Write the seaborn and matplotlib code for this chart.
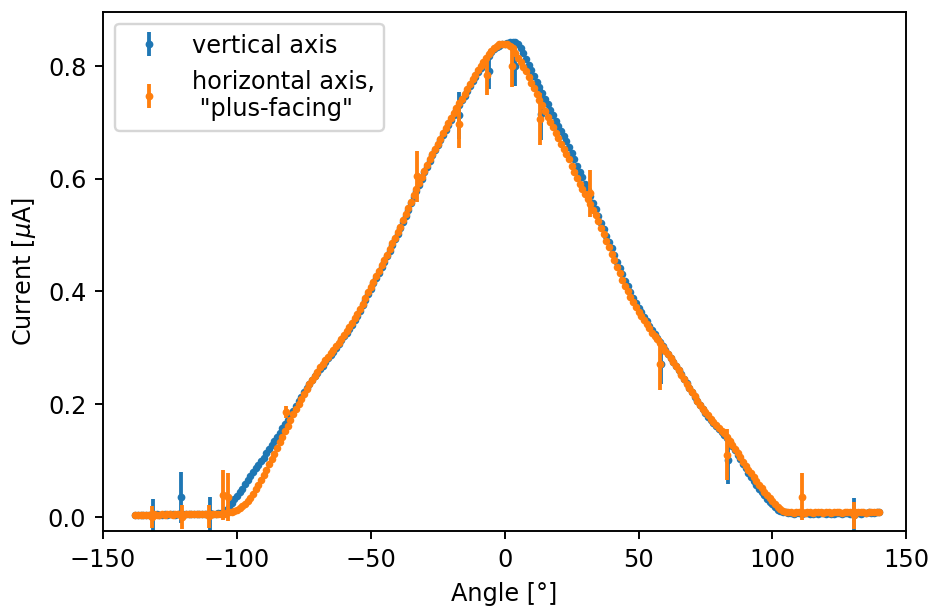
import numpy as np
import pandas as pd
import matplotlib
matplotlib.use("Agg")
import matplotlib.pyplot as plt
import seaborn as sns

# measured angles in degrees
angle = [
    -138, -137, -136, -135, -134, -133, -132, -131, -130, -129,
    -128, -127, -126, -125, -124, -123, -122, -121, -120, -119,
    -118, -117, -116, -115, -114, -113, -112, -111, -110, -109,
    -108, -107, -106, -105, -104, -103, -102, -101, -100, -99,
    -98, -97, -96, -95, -94, -93, -92, -91, -90, -89,
    -88, -87, -86, -85, -84, -83, -82, -81, -80, -79,
    -78, -77, -76, -75, -74, -73, -72, -71, -70, -69,
    -68, -67, -66, -65, -64, -63, -62, -61, -60, -59,
    -58, -57, -56, -55, -54, -53, -52, -51, -50, -49,
    -48, -47, -46, -45, -44, -43, -42, -41, -40, -39,
    -38, -37, -36, -35, -34, -33, -32, -31, -30, -29,
    -28, -27, -26, -25, -24, -23, -22, -21, -20, -19,
    -18, -17, -16, -15, -14, -13, -12, -11, -10, -9,
    -8, -7, -6, -5, -4, -3, -2, -1, 0, 1,
    2, 3, 4, 5, 6, 7, 8, 9, 10, 11,
    12, 13, 14, 15, 16, 17, 18, 19, 20, 21,
    22, 23, 24, 25, 26, 27, 28, 29, 30, 31,
    32, 33, 34, 35, 36, 37, 38, 39, 40, 41,
    42, 43, 44, 45, 46, 47, 48, 49, 50, 51,
    52, 53, 54, 55, 56, 57, 58, 59, 60, 61,
    62, 63, 64, 65, 66, 67, 68, 69, 70, 71,
    72, 73, 74, 75, 76, 77, 78, 79, 80, 81,
    82, 83, 84, 85, 86, 87, 88, 89, 90, 91,
    92, 93, 94, 95, 96, 97, 98, 99, 100, 101,
    102, 103, 104, 105, 106, 107, 108, 109, 110, 111,
    112, 113, 114, 115, 116, 117, 118, 119, 120, 121,
    122, 123, 124, 125, 126, 127, 128, 129, 130, 131,
    132, 133, 134, 135, 136, 137, 138, 139, 140,
]

# current, vertical axis scan [uA]
current_vertical = [
    0.003, 0.003, 0.004, 0.003, 0.004, 0.004, 0.003, 0.004, 0.005, 0.004,
    0.004, 0.005, 0.004, 0.005, 0.005, 0.004, 0.005, 0.005, 0.006, 0.005,
    0.005, 0.006, 0.005, 0.006, 0.006, 0.005, 0.006, 0.006, 0.007, 0.006,
    0.006, 0.007, 0.007, 0.008, 0.012, 0.018, 0.024, 0.031, 0.037, 0.044,
    0.050, 0.058, 0.065, 0.072, 0.079, 0.086, 0.092, 0.099, 0.105, 0.113,
    0.120, 0.127, 0.135, 0.142, 0.149, 0.157, 0.164, 0.172, 0.180, 0.188,
    0.197, 0.205, 0.213, 0.221, 0.228, 0.235, 0.242, 0.249, 0.255, 0.262,
    0.268, 0.275, 0.281, 0.287, 0.293, 0.300, 0.306, 0.313, 0.320, 0.327,
    0.334, 0.341, 0.349, 0.357, 0.366, 0.375, 0.385, 0.395, 0.405, 0.414,
    0.424, 0.433, 0.443, 0.452, 0.462, 0.472, 0.482, 0.492, 0.502, 0.512,
    0.523, 0.534, 0.545, 0.556, 0.567, 0.578, 0.589, 0.600, 0.611, 0.621,
    0.631, 0.641, 0.650, 0.659, 0.668, 0.677, 0.686, 0.695, 0.704, 0.713,
    0.722, 0.731, 0.739, 0.747, 0.756, 0.764, 0.773, 0.781, 0.789, 0.797,
    0.804, 0.811, 0.818, 0.824, 0.829, 0.833, 0.836, 0.838, 0.839, 0.840,
    0.842, 0.843, 0.843, 0.838, 0.831, 0.822, 0.812, 0.802, 0.792, 0.782,
    0.772, 0.762, 0.752, 0.742, 0.732, 0.722, 0.713, 0.703, 0.694, 0.684,
    0.675, 0.666, 0.656, 0.645, 0.634, 0.623, 0.612, 0.602, 0.591, 0.580,
    0.569, 0.557, 0.546, 0.534, 0.522, 0.511, 0.499, 0.487, 0.476, 0.464,
    0.452, 0.441, 0.430, 0.419, 0.409, 0.399, 0.389, 0.380, 0.371, 0.363,
    0.355, 0.347, 0.339, 0.331, 0.324, 0.317, 0.310, 0.303, 0.296, 0.289,
    0.282, 0.275, 0.268, 0.261, 0.253, 0.245, 0.237, 0.229, 0.221, 0.213,
    0.205, 0.198, 0.191, 0.184, 0.178, 0.172, 0.166, 0.161, 0.156, 0.151,
    0.146, 0.140, 0.133, 0.126, 0.118, 0.110, 0.102, 0.094, 0.086, 0.078,
    0.071, 0.064, 0.057, 0.050, 0.044, 0.038, 0.032, 0.027, 0.022, 0.017,
    0.013, 0.011, 0.009, 0.008, 0.007, 0.007, 0.006, 0.007, 0.007, 0.006,
    0.007, 0.007, 0.006, 0.006, 0.007, 0.006, 0.007, 0.007, 0.006, 0.007,
    0.006, 0.006, 0.007, 0.007, 0.006, 0.007, 0.007, 0.006, 0.007, 0.007,
    0.007, 0.006, 0.007, 0.007, 0.008, 0.007, 0.007, 0.008, 0.008,
]

# current, horizontal axis scan ("plus-facing") [uA]
current_horizontal = [
    0.004, 0.003, 0.004, 0.004, 0.003, 0.004, 0.004, 0.005, 0.004, 0.004,
    0.005, 0.004, 0.005, 0.005, 0.004, 0.005, 0.005, 0.005, 0.004, 0.005,
    0.006, 0.005, 0.005, 0.006, 0.005, 0.006, 0.006, 0.005, 0.006, 0.006,
    0.006, 0.005, 0.006, 0.006, 0.007, 0.008, 0.009, 0.011, 0.013, 0.016,
    0.019, 0.023, 0.028, 0.034, 0.041, 0.049, 0.057, 0.066, 0.075, 0.084,
    0.093, 0.102, 0.112, 0.122, 0.132, 0.142, 0.152, 0.162, 0.172, 0.182,
    0.192, 0.200, 0.209, 0.218, 0.227, 0.235, 0.243, 0.250, 0.257, 0.265,
    0.271, 0.278, 0.284, 0.290, 0.296, 0.303, 0.309, 0.316, 0.323, 0.330,
    0.337, 0.344, 0.352, 0.360, 0.369, 0.378, 0.388, 0.398, 0.408, 0.417,
    0.427, 0.436, 0.446, 0.455, 0.465, 0.475, 0.485, 0.495, 0.505, 0.515,
    0.526, 0.537, 0.548, 0.559, 0.570, 0.581, 0.592, 0.603, 0.614, 0.624,
    0.634, 0.644, 0.653, 0.662, 0.671, 0.680, 0.689, 0.698, 0.707, 0.716,
    0.725, 0.734, 0.742, 0.750, 0.759, 0.767, 0.776, 0.784, 0.792, 0.800,
    0.807, 0.814, 0.821, 0.827, 0.832, 0.836, 0.838, 0.839, 0.839, 0.838,
    0.836, 0.832, 0.823, 0.813, 0.806, 0.798, 0.790, 0.780, 0.770, 0.760,
    0.750, 0.740, 0.730, 0.720, 0.710, 0.700, 0.691, 0.681, 0.672, 0.662,
    0.653, 0.644, 0.634, 0.623, 0.612, 0.601, 0.590, 0.582, 0.573, 0.564,
    0.555, 0.545, 0.535, 0.524, 0.513, 0.502, 0.490, 0.478, 0.467, 0.455,
    0.443, 0.432, 0.421, 0.410, 0.400, 0.390, 0.381, 0.372, 0.363, 0.356,
    0.349, 0.342, 0.335, 0.327, 0.321, 0.315, 0.308, 0.302, 0.295, 0.289,
    0.282, 0.275, 0.268, 0.260, 0.252, 0.244, 0.236, 0.229, 0.221, 0.214,
    0.206, 0.199, 0.192, 0.186, 0.180, 0.174, 0.168, 0.163, 0.158, 0.153,
    0.148, 0.142, 0.135, 0.128, 0.121, 0.113, 0.106, 0.098, 0.091, 0.084,
    0.077, 0.070, 0.063, 0.057, 0.051, 0.045, 0.039, 0.033, 0.028, 0.023,
    0.018, 0.014, 0.011, 0.009, 0.008, 0.008, 0.007, 0.008, 0.008, 0.008,
    0.007, 0.008, 0.008, 0.007, 0.008, 0.008, 0.008, 0.007, 0.008, 0.008,
    0.007, 0.008, 0.008, 0.008, 0.007, 0.008, 0.008, 0.008, 0.007, 0.008,
    0.008, 0.008, 0.008, 0.007, 0.008, 0.008, 0.008, 0.009, 0.008,
]

# readings with a visible uncertainty
vert_err_angle = [-131.5, -121.0, -110.0, -17.0, -5.7, 3.9, 13.5, 58.5, 83.6, 130.3]
vert_err_current = [0.003, 0.035, 0.005, 0.712, 0.790, 0.800, 0.714, 0.272, 0.101, 0.004]
vert_err = [0.028, 0.045, 0.030, 0.042, 0.032, 0.036, 0.045, 0.036, 0.043, 0.030]

horiz_err_angle = [-131.8, -120.6, -110.6, -105.2, -103.2, -81.5, -32.8, -17.2,
                   -6.6, 2.7, 13.3, 31.9, 58.2, 83.0, 111.0, 130.3]
horiz_err_current = [0.000, 0.000, 0.001, 0.039, 0.035, 0.186, 0.604, 0.697,
                     0.784, 0.800, 0.705, 0.574, 0.271, 0.110, 0.036, 0.003]
horiz_err = [0.020, 0.021, 0.020, 0.044, 0.043, 0.010, 0.045, 0.042,
             0.036, 0.038, 0.046, 0.042, 0.046, 0.045, 0.041, 0.024]

df = pd.DataFrame({
    "angle": angle,
    "vertical": current_vertical,
    "horizontal": current_horizontal,
})

pal = sns.color_palette("tab10")
c_vert, c_horiz = pal[0], pal[1]

DPI = 172.5
fig = plt.figure(figsize=(934.3 / DPI, 611.3 / DPI), dpi=DPI)
ax = fig.add_axes([0.1103, 0.1309, 0.8597, 0.8495])

sns.scatterplot(data=df, x="angle", y="vertical", color=c_vert, s=10,
                linewidth=0, ax=ax, zorder=2)
ax.errorbar(vert_err_angle, vert_err_current, yerr=vert_err, fmt=".",
            color=c_vert, ms=6.5, mew=0, elinewidth=1.6,
            label="vertical axis", zorder=2.1)

sns.scatterplot(data=df, x="angle", y="horizontal", color=c_horiz, s=10,
                linewidth=0, ax=ax, zorder=2.2)
ax.errorbar(horiz_err_angle, horiz_err_current, yerr=horiz_err, fmt=".",
            color=c_horiz, ms=6.5, mew=0, elinewidth=1.6,
            label='horizontal axis,\n "plus-facing"', zorder=2.3)

ax.set_xlim(-150, 150)
ax.set_ylim(-0.025, 0.896)
ax.set_xticks([-150, -100, -50, 0, 50, 100, 150])
ax.set_yticks([0.0, 0.2, 0.4, 0.6, 0.8])
ax.set_xlabel("Angle [°]")
ax.set_ylabel("Current [$\\mu$A]")
ax.legend(loc="upper left")

fig.savefig("out.png", dpi=DPI)
plt.close(fig)
